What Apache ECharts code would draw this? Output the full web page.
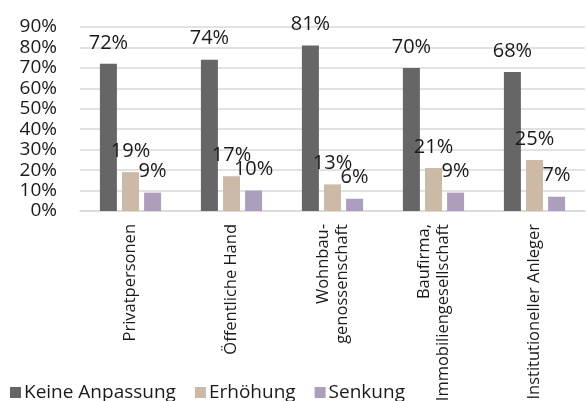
<!DOCTYPE html>
<html>
<head>
<meta charset="utf-8">
<script src="https://cdn.jsdelivr.net/npm/echarts@6/dist/echarts.min.js"></script>
<style>
  html, body { margin: 0; padding: 0; background: #fff; }
  #chart { width: 586px; height: 401px; }
</style>
</head>
<body>
<div id="chart"></div>
<script>
const categories = ['Privatpersonen', 'Öffentliche Hand', 'Wohnbau-\ngenossenschaft', 'Baufirma,\nImmobiliengesellschaft', 'Institutioneller Anleger'];
const keineAnpassung = [72, 74, 81, 70, 68];
const erhoehung = [19, 17, 13, 21, 25];
const senkung = [9, 10, 6, 9, 7];
const yTicks = { min: 0, max: 90, interval: 10 };

const font = '"Open Sans", "Noto Sans", sans-serif';
const chart = echarts.init(document.getElementById('chart'));

const label = {
  show: true,
  position: 'top',
  distance: 11,
  formatter: (p) => p.value + '%',
  fontFamily: font,
  fontSize: 20,
  color: '#1a1a1a'
};

function bar(name, data, color) {
  return {
    name: name,
    type: 'bar',
    data: data,
    barWidth: 17,
    barGap: '30%',
    itemStyle: { color: color },
    label: label
  };
}

chart.setOption({
  animation: false,
  textStyle: { fontFamily: font },
  grid: { left: 80, right: 1, top: 27, bottom: 190, containLabel: false, outerBoundsMode: 'none' },
  legend: {
    left: 5,
    top: 378,
    itemWidth: 11,
    itemHeight: 11,
    itemGap: 19,
    icon: 'rect',
    textStyle: { fontFamily: font, fontSize: 19, color: '#1a1a1a', padding: [0, 0, 0, -2] },
    data: ['Keine Anpassung', 'Erhöhung', 'Senkung']
  },
  xAxis: {
    type: 'category',
    data: categories,
    axisTick: { show: false },
    axisLine: { lineStyle: { color: '#d9d9d9', width: 1.5 } },
    axisLabel: {
      rotate: 90,
      interval: 0,
      margin: 13,
      fontFamily: font,
      fontSize: 16.5,
      lineHeight: 19,
      color: '#1a1a1a'
    }
  },
  yAxis: {
    type: 'value',
    min: yTicks.min,
    max: yTicks.max,
    interval: yTicks.interval,
    axisLine: { show: false },
    axisTick: { show: false },
    splitLine: { lineStyle: { color: '#d9d9d9', width: 1.5 } },
    axisLabel: {
      formatter: '{value}%',
      margin: 23,
      fontFamily: font,
      fontSize: 19,
      lineHeight: 19,
      color: '#1a1a1a'
    }
  },
  series: [
    bar('Keine Anpassung', keineAnpassung, '#666666'),
    bar('Erhöhung', erhoehung, '#ccb9a6'),
    bar('Senkung', senkung, '#ae9ebd')
  ]
});
</script>
</body>
</html>
